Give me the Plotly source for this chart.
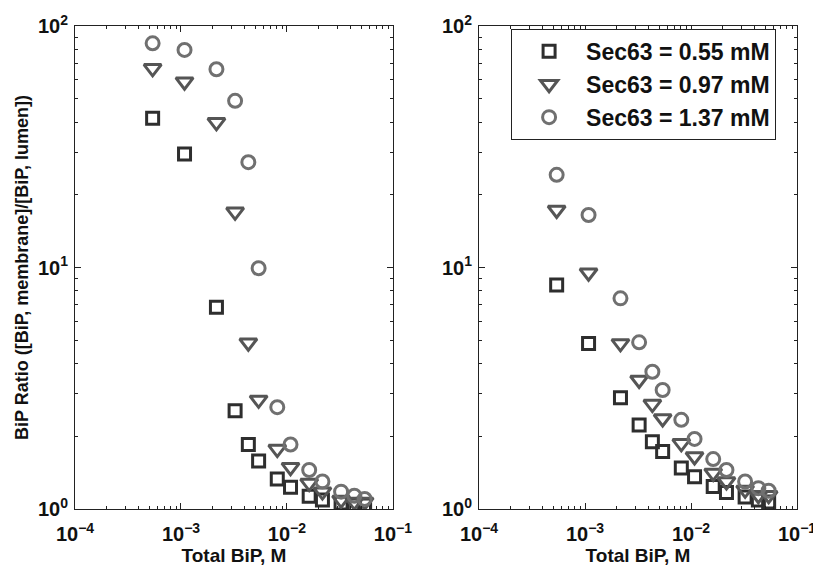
import plotly.graph_objects as go
from plotly.subplots import make_subplots

total_bip = [5.4e-4, 1.08e-3, 2.16e-3, 3.24e-3, 4.32e-3, 5.4e-3, 8.1e-3,
             1.08e-2, 1.62e-2, 2.16e-2, 3.24e-2, 4.32e-2, 5.4e-2]

series_names = ["Sec63 = 0.55 mM", "Sec63 = 0.97 mM", "Sec63 = 1.37 mM"]

# Left panel
left_055 = [41.5, 29.5, 6.84, 2.55, 1.85, 1.58, 1.33, 1.23, 1.13, 1.09, 1.06, 1.04, 1.04]
left_097 = [66.8, 58.8, 39.9, 17.0, 4.88, 2.83, 1.77, 1.49, 1.28, 1.18, 1.09, 1.07, 1.07]
left_137 = [84.8, 79.6, 66.2, 49.0, 27.3, 9.93, 2.64, 1.85, 1.45, 1.30, 1.18, 1.135, 1.10]

# Right panel
right_055 = [8.47, 4.85, 2.89, 2.23, 1.90, 1.73, 1.48, 1.36, 1.24, 1.17, 1.12, 1.09, 1.07]
right_097 = [17.3, 9.51, 4.85, 3.42, 2.72, 2.37, 1.87, 1.65, 1.41, 1.30, 1.20, 1.14, 1.14]
right_137 = [24.2, 16.5, 7.45, 4.90, 3.70, 3.11, 2.34, 1.95, 1.61, 1.45, 1.30, 1.22, 1.19]

x_tickvals = [1e-4, 1e-3, 1e-2, 1e-1]
x_ticktext = ["10<sup>\u22124</sup>", "10<sup>\u22123</sup>", "10<sup>\u22122</sup>", "10<sup>\u22121</sup>"]
y_tickvals = [1, 10, 100]
y_ticktext = ["10<sup>0</sup>", "10<sup>1</sup>", "10<sup>2</sup>"]

x_minor = [m * 10 ** e for e in (-4, -3, -2) for m in range(2, 10)]
y_minor = [m * 10 ** e for e in (0, 1) for m in range(2, 10)]

symbols = ["square-open", "triangle-down-open", "circle-open"]
colors = ["#2e2e2e", "#555555", "#707070"]
sizes = [12, 15, 13]

FONT = "Liberation Sans, Arial, sans-serif"

fig = make_subplots(rows=1, cols=2, horizontal_spacing=0.1192)

left = [left_055, left_097, left_137]
right = [right_055, right_097, right_137]

for i in range(3):
    fig.add_trace(go.Scatter(
        x=total_bip, y=left[i], mode="markers", name=series_names[i],
        legendgroup=f"g{i}", showlegend=False,
        marker=dict(symbol=symbols[i], size=sizes[i], color=colors[i],
                    line=dict(width=3, color=colors[i]))), row=1, col=1)
for i in range(3):
    fig.add_trace(go.Scatter(
        x=total_bip, y=right[i], mode="markers", name=series_names[i],
        legendgroup=f"g{i}", showlegend=True,
        marker=dict(symbol=symbols[i], size=sizes[i], color=colors[i],
                    line=dict(width=3, color=colors[i]))), row=1, col=2)

axis_common = dict(
    type="log", showgrid=False, zeroline=False, automargin=False,
    showline=True, linecolor="#222222", linewidth=1, mirror="allticks",
    ticks="inside", ticklen=6, tickcolor="#222222", ticklabeloverflow="allow",
    tickfont=dict(family=FONT, size=20, color="#111111", weight="bold"),
)

fig.update_xaxes(**axis_common, range=[-4, -1],
                 tickmode="array", tickvals=x_tickvals, ticktext=x_ticktext,
                 ticklabelstandoff=7,
                 minor=dict(ticks="inside", ticklen=3, tickcolor="#222222",
                            tickmode="array", tickvals=x_minor, showgrid=False),
                 title=dict(text="Total BiP, M", standoff=3,
                            font=dict(family=FONT, size=19, color="#111111", weight="bold")))
fig.update_yaxes(**axis_common, range=[0, 2],
                 tickmode="array", tickvals=y_tickvals, ticktext=y_ticktext,
                 ticklabelstandoff=2,
                 minor=dict(ticks="inside", ticklen=3, tickcolor="#222222",
                            tickmode="array", tickvals=y_minor, showgrid=False))
fig.update_yaxes(title=dict(text="BiP Ratio ([BiP, membrane]/[BiP, lumen])", standoff=4,
                            font=dict(family=FONT, size=18, color="#111111", weight="bold")),
                 row=1, col=1)

fig.update_layout(
    width=813, height=567,
    margin=dict(l=75, r=16, t=26, b=58),
    paper_bgcolor="white", plot_bgcolor="white",
    font=dict(family=FONT, color="#111111"),
    legend=dict(x=0.604, y=0.994, xanchor="left", yanchor="top",
                bgcolor="white", bordercolor="#222222", borderwidth=1,
                font=dict(family=FONT, size=23, color="#111111", weight="bold"),
                itemwidth=64, tracegroupgap=0),
)

fig.write_html("out.html")
